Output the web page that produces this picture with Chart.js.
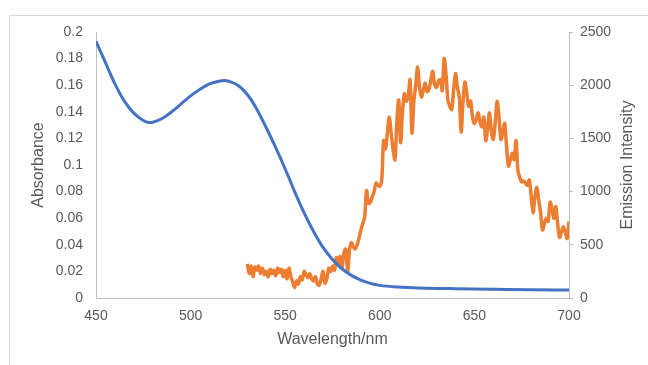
<!DOCTYPE html>
<html>
<head>
<meta charset="utf-8">
<script src="https://cdn.jsdelivr.net/npm/chart.js"></script>
<style>
  html, body { margin: 0; padding: 0; background: #fff; overflow: hidden; }
  #wrap { position: relative; width: 648px; height: 365px; }
  #frame { position: absolute; left: 9px; top: 15px; width: 700px; height: 400px; border: 1px solid #d9d9d9; }
  canvas { position: absolute; left: 0; top: 0; }
</style>
</head>
<body>
<div id="wrap">
  <div id="frame"></div>
  <canvas id="grafica" width="648" height="365"></canvas>
</div>
<script>
// Absorbance spectrum (left axis)
const absWl = [450, 455, 460, 465, 470, 475, 478, 480, 485, 490, 495, 500, 505, 510, 515, 518, 520, 525, 530, 535, 540, 545, 550, 555, 560, 565, 570, 575, 580, 585, 590, 595, 600, 610, 620, 630, 640, 660, 680, 700];
const absVal = [0.193, 0.177, 0.161, 0.148, 0.139, 0.1335, 0.132, 0.1322, 0.135, 0.140, 0.146, 0.152, 0.157, 0.161, 0.163, 0.1635, 0.163, 0.160, 0.153, 0.142, 0.128, 0.113, 0.097, 0.080, 0.064, 0.050, 0.038, 0.029, 0.022, 0.017, 0.0135, 0.011, 0.0095, 0.0082, 0.0076, 0.0072, 0.007, 0.0066, 0.0062, 0.006];

// Emission spectrum (right axis)
const emWl = [530, 531, 532, 533, 534, 535, 536, 537, 538, 539, 540, 541, 542, 543, 544, 545, 546, 547, 548, 549,
  550, 551, 552, 553, 554, 555, 556, 557, 558, 559, 560, 561, 562, 563, 564, 565, 566, 567, 568, 569,
  570, 571, 572, 573, 574, 575, 576, 577, 578, 579, 580, 581, 582, 583, 584, 585, 586, 587, 588, 589,
  590, 591, 592, 593, 594, 595, 596, 597, 598, 599, 600, 601, 602, 603, 604, 605, 606, 607, 608, 609,
  610, 611, 612, 613, 614, 615, 616, 617, 618, 619, 620, 621, 622, 623, 624, 625, 626, 627, 628, 629,
  630, 631, 632, 633, 634, 635, 636, 637, 638, 639, 640, 641, 642, 643, 644, 645, 646, 647, 648, 649,
  650, 651, 652, 653, 654, 655, 656, 657, 658, 659, 660, 661, 662, 663, 664, 665, 666, 667, 668, 669,
  670, 671, 672, 673, 674, 675, 676, 677, 678, 679, 680, 681, 682, 683, 684, 685, 686, 687, 688, 689,
  690, 691, 692, 693, 694, 695, 696, 697, 698, 699, 700];
const emVal = [320, 230, 300, 200, 290, 260, 300, 230, 280, 220, 250, 200, 270, 230, 260, 210, 280, 240, 270, 200,
  260, 180, 280, 200, 150, 100, 160, 130, 200, 170, 250, 220, 190, 230, 180, 160, 200, 130, 120, 180,
  250, 140, 180, 280, 250, 300, 260, 380, 330, 390, 280, 420, 460, 250, 450, 520, 480, 460, 500, 560,
  640, 700, 760, 1010, 890, 900, 950, 1000, 1080, 1060, 1050, 1100, 1480, 1400, 1550, 1700, 1550, 1400, 1300, 1650,
  1860, 1460, 1750, 1920, 1850, 1900, 2050, 1550, 1850, 2000, 2170, 1980, 1890, 1950, 2020, 1940, 1960, 2050, 2130, 2000,
  1980, 2040, 2050, 1950, 2250, 2100, 1860, 1800, 1770, 1950, 2110, 1980, 1890, 1560, 1850, 2030, 1920, 1800, 1850, 1700,
  1640, 1680, 1740, 1650, 1610, 1700, 1480, 1600, 1740, 1560, 1490, 1650, 1850, 1700, 1490, 1560, 1640, 1420, 1240, 1300,
  1360, 1300, 1480, 1200, 1130, 1090, 1100, 1080, 1060, 1110, 960, 800, 950, 1040, 920, 800, 640, 700, 750, 720,
  900, 840, 750, 860, 700, 570, 620, 670, 620, 560, 720];

const xTicks = [450, 500, 550, 600, 650, 700];

const grisTexto = '#595959';
const grisEje = '#bfbfbf';
const fuente = "'Liberation Sans', Arial, sans-serif";

const puntos = (xs, ys) => xs.map((x, i) => ({ x: x, y: ys[i] }));

// Título del eje derecho, leído de abajo hacia arriba como en Excel
const tituloDerecho = {
    id: 'tituloDerecho',
    afterDraw(chart) {
        const eje = chart.scales.yEm;
        const ctx = chart.ctx;
        ctx.save();
        ctx.translate(628, (eje.top + eje.bottom) / 2);
        ctx.rotate(-Math.PI / 2);
        ctx.fillStyle = grisTexto;
        ctx.font = '16px ' + fuente;
        ctx.textAlign = 'center';
        ctx.textBaseline = 'middle';
        ctx.fillText('Emission Intensity', 0, 0);
        ctx.restore();
    }
};

new Chart(document.getElementById('grafica').getContext('2d'), {
    type: 'line',
    data: {
        datasets: [{
            label: 'Absorbance',
            data: puntos(absWl, absVal),
            yAxisID: 'yAbs',
            borderColor: '#4472C4',
            borderWidth: 3,
            pointRadius: 0,
            tension: 0.4,
            cubicInterpolationMode: 'monotone'
        }, {
            label: 'Emission Intensity',
            data: puntos(emWl, emVal),
            yAxisID: 'yEm',
            borderColor: '#ED7D31',
            borderWidth: 3.5,
            pointRadius: 0,
            tension: 0.3,
            borderJoinStyle: 'round'
        }]
    },
    options: {
        responsive: false,
        animation: false,
        layout: { padding: { top: 32, left: 0, right: 0, bottom: 0 } },
        plugins: {
            legend: { display: false },
            tooltip: { enabled: false }
        },
        scales: {
            x: {
                type: 'linear',
                min: 450,
                max: 700,
                afterBuildTicks: (scale) => { scale.ticks = xTicks.map(v => ({ value: v })); },
                afterFit: (scale) => { scale.height = 67; },
                grid: { drawOnChartArea: false, drawTicks: false },
                border: { color: grisEje, width: 1 },
                ticks: { color: grisTexto, font: { family: fuente, size: 14 }, padding: 10, maxRotation: 0 },
                title: { display: true, text: 'Wavelength/nm', color: grisTexto, font: { family: fuente, size: 16 }, padding: { top: 0, bottom: 16 } }
            },
            yAbs: {
                position: 'left',
                min: 0,
                max: 0.2,
                afterFit: (scale) => { scale.width = 96; },
                grid: { drawOnChartArea: false, drawTicks: false },
                border: { color: grisEje, width: 1 },
                ticks: {
                    stepSize: 0.02,
                    color: grisTexto,
                    font: { family: fuente, size: 14 },
                    padding: 13,
                    callback: (v) => String(+v.toFixed(2))
                },
                title: { display: true, text: 'Absorbance', color: grisTexto, font: { family: fuente, size: 16 }, padding: { top: 29, bottom: 0 } }
            },
            yEm: {
                position: 'right',
                min: 0,
                max: 2500,
                afterFit: (scale) => { scale.width = 79; },
                grid: { drawOnChartArea: false, drawTicks: true, tickLength: 4, color: grisEje },
                border: { color: grisEje, width: 1 },
                ticks: { stepSize: 500, color: grisTexto, font: { family: fuente, size: 14 }, padding: 7, callback: (v) => String(v) },
                title: { display: false }
            }
        }
    },
    plugins: [tituloDerecho]
});
</script>
</body>
</html>
